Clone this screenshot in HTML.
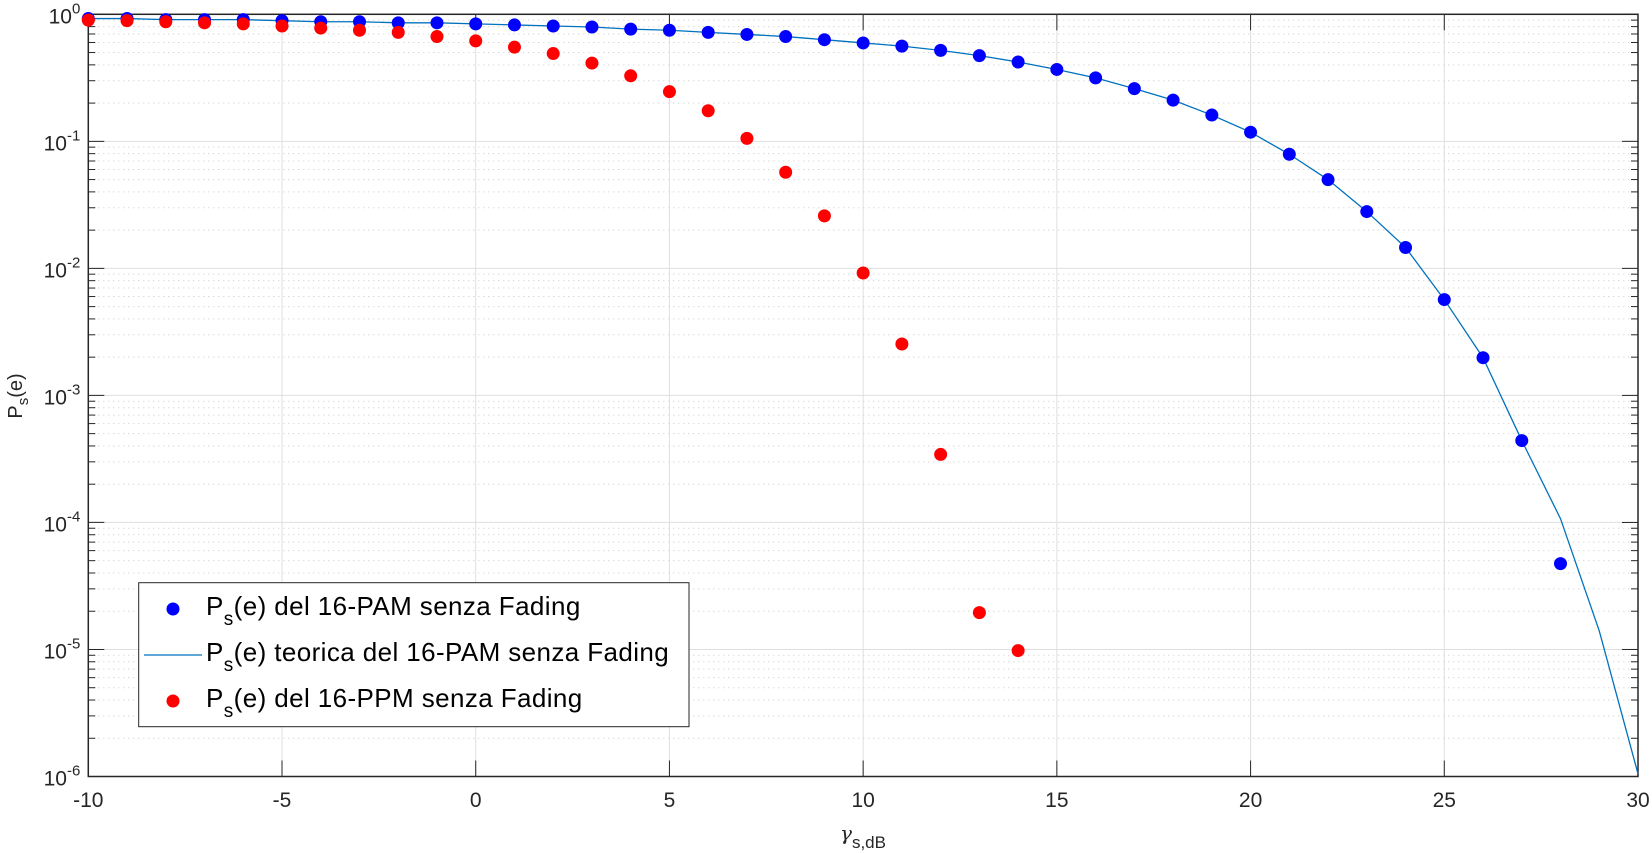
<!DOCTYPE html>
<html><head><meta charset="utf-8"><style>
html,body{margin:0;padding:0;background:#fff;}
svg{display:block;font-family:"Liberation Sans",sans-serif;}
</style></head><body>
<svg id="chart" width="1652" height="853" viewBox="0 0 1652 853">
<rect width="1652" height="853" fill="#fff"/>
<g id="grid"></g><g id="ticks"></g><g id="series"></g>
</svg>
<script>
const xValues=[-10,-9,-8,-7,-6,-5,-4,-3,-2,-1,0,1,2,3,4,5,6,7,8,9,10,11,12,13,14,15,16,17,18,19,20,21,22,23,24,25,26,27,28];
const pamSim=[0.926,0.926,0.908,0.908,0.908,0.891,0.874,0.874,0.857,0.857,0.841,0.825,0.809,0.794,0.764,0.749,0.721,0.694,0.668,0.631,0.595,0.562,0.520,0.473,0.421,0.368,0.316,0.260,0.211,0.161,0.118,0.0791,0.0499,0.0280,0.0146,0.00568,0.00198,0.000441,0.0000474];
const theoryX=[-10,-9,-8,-7,-6,-5,-4,-3,-2,-1,0,1,2,3,4,5,6,7,8,9,10,11,12,13,14,15,16,17,18,19,20,21,22,23,24,25,26,27,28,29,30];
const pamTheory=[0.926,0.926,0.908,0.908,0.908,0.891,0.874,0.874,0.857,0.857,0.841,0.825,0.809,0.794,0.764,0.749,0.721,0.694,0.668,0.631,0.595,0.562,0.520,0.473,0.421,0.368,0.316,0.260,0.211,0.161,0.118,0.0791,0.0499,0.0280,0.0146,0.00568,0.00198,0.000441,0.000107,0.000014,0.00000105];
const ppmX=[-10,-9,-8,-7,-6,-5,-4,-3,-2,-1,0,1,2,3,4,5,6,7,8,9,10,11,12,13,14];
const ppmSim=[0.90,0.891,0.874,0.857,0.841,0.809,0.779,0.749,0.721,0.668,0.618,0.551,0.491,0.413,0.328,0.246,0.174,0.1055,0.0571,0.0259,0.00919,0.00254,0.000343,0.0000195,0.0000098];
const xTicks=[-10,-5,0,5,10,15,20,25,30];
const yTickExp=[0,-1,-2,-3,-4,-5,-6];

const L=88.3,R=1638,T=14.3,B=776.5;
const X=v=>L+(v+10)/40*(R-L);
const Y=v=>T+(-Math.log10(v))/6*(B-T);
const NS='http://www.w3.org/2000/svg';
function mk(tag,attrs,parent){const e=document.createElementNS(NS,tag);for(const k in attrs)e.setAttribute(k,attrs[k]);parent.appendChild(e);return e;}
const svg=document.getElementById('chart');
const grid=document.getElementById('grid'),ticks=document.getElementById('ticks'),series=document.getElementById('series');

for(let d=0;d>-6;d--){for(let m=2;m<=9;m++){const y=Y(m*Math.pow(10,d-1));
 const g=mk('line',{x1:L,x2:R,y1:y,y2:y,stroke:'#c8c8c8','stroke-width':1,'stroke-dasharray':'1 4'},grid);
 
 
 mk('line',{x1:L,x2:L+7,y1:y,y2:y,stroke:'#262626','stroke-width':1},ticks);
 mk('line',{x1:R,x2:R-7,y1:y,y2:y,stroke:'#262626','stroke-width':1},ticks);
}}
yTickExp.forEach(e=>{const y=Y(Math.pow(10,e));
 const g=mk('line',{x1:L,x2:R,y1:y,y2:y,stroke:'#dfdfdf','stroke-width':1},grid);
 
 
 mk('line',{x1:L,x2:L+16,y1:y,y2:y,stroke:'#262626','stroke-width':1},ticks);
 mk('line',{x1:R,x2:R-16,y1:y,y2:y,stroke:'#262626','stroke-width':1},ticks);
 const t=mk('text',{x:L-8,y:y+9,'text-anchor':'end','font-size':21,fill:'#262626'},ticks);
 
 
 t.innerHTML='10<tspan dy="-10" font-size="15">'+e+'</tspan>';
});
xTicks.forEach(v=>{const x=X(v);
 const g=mk('line',{x1:x,x2:x,y1:T,y2:B,stroke:'#dfdfdf','stroke-width':1},grid);
 
 
 mk('line',{x1:x,x2:x,y1:B,y2:B-16,stroke:'#262626','stroke-width':1},ticks);
 mk('line',{x1:x,x2:x,y1:T,y2:T+16,stroke:'#262626','stroke-width':1},ticks);
 const t=mk('text',{x:x,y:807,'text-anchor':'middle','font-size':21,fill:'#262626'},ticks);
 
 
 t.textContent=String(v);
});
const box=mk('rect',{x:L,y:T,width:R-L,height:B-T,fill:'none',stroke:'#262626','stroke-width':1.5},ticks);



const pl=mk('polyline',{points:theoryX.map((x,i)=>X(x)+','+Y(pamTheory[i])).join(' '),fill:'none',stroke:'#0072bd','stroke-width':1.3},series);


xValues.forEach((x,i)=>{const c=mk('circle',{cx:X(x),cy:Y(pamSim[i]),r:6.5,fill:'#0000ff'},series);
 
 });
ppmX.forEach((x,i)=>{const c=mk('circle',{cx:X(x),cy:Y(ppmSim[i]),r:6.5,fill:'#ff0000'},series);
 
 });

const xl=mk('text',{x:863,y:846,'text-anchor':'middle','font-size':20,fill:'#262626'},svg);


xl.innerHTML='<tspan font-family="DejaVu Serif, serif" font-style="italic" dy="-6">γ</tspan><tspan font-size="17" dy="8">s,dB</tspan>';
const yl=mk('text',{x:0,y:0,'text-anchor':'middle','font-size':20,fill:'#262626',transform:'translate(22,396) rotate(-90)'},svg);


yl.innerHTML='P<tspan font-size="15" dy="6">s</tspan><tspan dy="-6">(e)</tspan>';

const lg=mk('g',{},svg);


mk('rect',{x:138.7,y:582.7,width:550.3,height:144,fill:'#fff',stroke:'#262626','stroke-width':1},lg);
const entries=[['P','(e) del 16-PAM senza Fading','dot','#0000ff',609],['P','(e) teorica del 16-PAM senza Fading','line','#0072bd',655],['P','(e) del 16-PPM senza Fading','dot','#ff0000',701]];
entries.forEach(en=>{
 const g=mk('g',{},lg);
 
 
 if(en[2]==='dot')mk('circle',{cx:173,cy:en[4],r:6.5,fill:en[3]},g);
 else mk('line',{x1:144,x2:202,y1:en[4],y2:en[4],stroke:en[3],'stroke-width':1.3},g);
 const t=mk('text',{x:206,y:en[4]+6,'font-size':26,'letter-spacing':0.4,fill:'#000'},g);
 t.innerHTML='P<tspan font-size="19" dy="10">s</tspan><tspan dy="-10">'+en[1]+'</tspan>';
});
</script>
</body></html>
